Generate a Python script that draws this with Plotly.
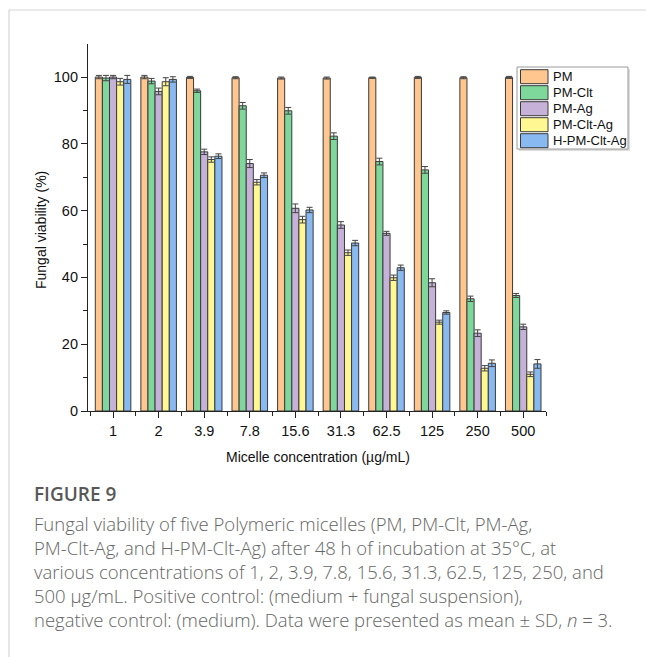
import plotly.graph_objects as go

categories = ["1", "2", "3.9", "7.8", "15.6", "31.3", "62.5", "125", "250", "500"]
series_names = ["PM", "PM-Clt", "PM-Ag", "PM-Clt-Ag", "H-PM-Clt-Ag"]

pm = [100.0, 100.0, 99.9, 99.8, 99.7, 99.7, 99.8, 99.9, 99.8, 99.9]
pm_clt = [99.7, 98.8, 95.9, 91.4, 89.9, 82.3, 74.7, 72.2, 33.6, 34.6]
pm_ag = [100.0, 95.7, 77.6, 74.1, 60.7, 55.7, 53.2, 38.4, 23.3, 25.2]
pm_clt_ag = [98.6, 98.6, 75.3, 68.5, 57.3, 47.4, 39.9, 26.6, 12.8, 11.0]
h_pm_clt_ag = [99.3, 99.3, 76.3, 70.6, 60.2, 50.3, 42.9, 29.5, 14.3, 14.1]

pm_sd = [0.5, 0.5, 0.3, 0.3, 0.3, 0.3, 0.2, 0.3, 0.3, 0.3]
pm_clt_sd = [0.8, 0.8, 0.5, 1.0, 1.0, 1.0, 1.0, 1.0, 0.8, 0.6]
pm_ag_sd = [0.5, 1.0, 0.8, 1.2, 1.3, 1.0, 0.6, 1.2, 1.0, 0.8]
pm_clt_ag_sd = [1.0, 1.2, 0.8, 0.8, 1.0, 0.8, 0.8, 0.6, 0.8, 0.7]
h_pm_clt_ag_sd = [1.2, 0.8, 0.7, 0.7, 0.8, 0.8, 0.8, 0.5, 1.0, 1.3]

series_values = [pm, pm_clt, pm_ag, pm_clt_ag, h_pm_clt_ag]
series_sd = [pm_sd, pm_clt_sd, pm_ag_sd, pm_clt_ag_sd, h_pm_clt_ag_sd]
colors = ["#FFC690", "#7ED79B", "#C6B1D8", "#FFF791", "#89B9F1"]

y_ticks = [0, 20, 40, 60, 80, 100]

caption_title = "FIGURE 9"
caption_lines = [
    "Fungal viability of five Polymeric micelles (PM, PM-Clt, PM-Ag,",
    "PM-Clt-Ag, and H-PM-Clt-Ag) after 48 h of incubation at 35°C, at",
    "various concentrations of 1, 2, 3.9, 7.8, 15.6, 31.3, 62.5, 125, 250, and",
    "500 µg/mL. Positive control: (medium + fungal suspension),",
    "negative control: (medium). Data were presented as mean ± SD, <i>n</i> = 3.",
]

# ---- layout geometry (pixels) ----
WIDTH, HEIGHT = 646, 657
L, R, T, B = 88, 546, 44, 411
PW, PH = R - L, B - T


def px_x(px):
    return (px - L) / PW


def px_y(py):
    return (B - py) / PH


x_idx = list(range(len(categories)))

fig = go.Figure()
for name, vals, sds, col in zip(series_names, series_values, series_sd, colors):
    fig.add_trace(go.Bar(
        x=x_idx, y=vals, name=name,
        marker=dict(color=col, line=dict(color="#3a3a3a", width=1)),
        error_y=dict(type="data", array=sds, visible=True,
                     color="#444444", thickness=1, width=3),
        showlegend=False,
    ))

fig.update_layout(
    width=WIDTH, height=HEIGHT,
    margin=dict(l=L, r=WIDTH - R, t=T, b=HEIGHT - B),
    paper_bgcolor="white", plot_bgcolor="white",
    barmode="group", bargap=0.22, bargroupgap=0.0,
    font=dict(family="Arial, Liberation Sans, sans-serif", size=14, color="#111111"),
)

fig.update_xaxes(
    range=[-0.55, len(categories) - 0.5],
    tickmode="array", tickvals=x_idx, ticktext=categories,
    showline=True, linecolor="#222222", linewidth=1.2,
    ticks="outside", ticklen=6, tickwidth=1.2, tickcolor="#222222",
    minor=dict(tickmode="linear", tick0=-0.5, dtick=1, ticks="outside",
               ticklen=4, tickwidth=1.2, tickcolor="#222222"),
    showgrid=False, zeroline=False,
    tickfont=dict(size=14.5, color="#111111"),
)
fig.update_yaxes(
    range=[0, 109.9],
    tickmode="array", tickvals=y_ticks,
    showline=True, linecolor="#222222", linewidth=1.2,
    ticks="outside", ticklen=6, tickwidth=1.2, tickcolor="#222222",
    minor=dict(tickmode="linear", tick0=10, dtick=20, ticks="outside",
               ticklen=4, tickwidth=1.2, tickcolor="#222222"),
    showgrid=False, zeroline=False,
    tickfont=dict(size=14.5, color="#111111"),
)

shapes = []
annotations = []

# frame lines (light gray) top and left
shapes.append(dict(type="line", xref="paper", yref="paper",
                   x0=px_x(9), x1=px_x(646), y0=px_y(10), y1=px_y(10),
                   line=dict(color="#d6d6d6", width=1.2)))
shapes.append(dict(type="line", xref="paper", yref="paper",
                   x0=px_x(9), x1=px_x(9), y0=px_y(10), y1=px_y(657),
                   line=dict(color="#d6d6d6", width=1.2)))

# axis titles
annotations.append(dict(text="Fungal viability (%)", xref="paper", yref="paper",
                        x=px_x(41), y=px_y(230), textangle=-90, showarrow=False,
                        xanchor="center", yanchor="middle",
                        font=dict(size=14, color="#111111")))
annotations.append(dict(text="Micelle concentration (µg/mL)", xref="paper", yref="paper",
                        x=px_x(318), y=px_y(457), showarrow=False,
                        xanchor="center", yanchor="middle",
                        font=dict(size=14, color="#111111")))

# custom legend
shapes.append(dict(type="rect", xref="paper", yref="paper",
                   x0=px_x(519), x1=px_x(630), y0=px_y(69), y1=px_y(151),
                   line=dict(width=0), fillcolor="#dddddd"))
shapes.append(dict(type="rect", xref="paper", yref="paper",
                   x0=px_x(517), x1=px_x(628), y0=px_y(67), y1=px_y(149),
                   line=dict(color="#9a9a9a", width=1), fillcolor="white"))
for i, (name, col) in enumerate(zip(series_names, colors)):
    cy = 76.7 + 16 * i
    shapes.append(dict(type="rect", xref="paper", yref="paper",
                       x0=px_x(520.5), x1=px_x(548), y0=px_y(cy - 7), y1=px_y(cy + 7),
                       line=dict(color="#3a3a3a", width=1), fillcolor=col))
    annotations.append(dict(text=name, xref="paper", yref="paper",
                            x=px_x(551), y=px_y(cy), showarrow=False,
                            xanchor="left", yanchor="middle",
                            font=dict(size=13, color="#111111")))

# caption
annotations.append(dict(text=caption_title, xref="paper", yref="paper",
                        x=px_x(32), y=px_y(494), showarrow=False,
                        xanchor="left", yanchor="middle",
                        font=dict(family="Open Sans, Lato, sans-serif", size=19,
                                  weight=600, color="#585858")))
for i, line in enumerate(caption_lines):
    annotations.append(dict(text=line, xref="paper", yref="paper",
                            x=px_x(32), y=px_y(523 + 24.2 * i), showarrow=False,
                            xanchor="left", yanchor="middle",
                            font=dict(family="Open Sans, Lato, sans-serif", size=18.5,
                                      weight=300, color="#666666")))

fig.update_layout(shapes=shapes, annotations=annotations)

fig.write_html(
    "out.html",
    config={"displayModeBar": False},
    post_script="document.body.style.margin='0';document.body.style.overflow='hidden';",
)
